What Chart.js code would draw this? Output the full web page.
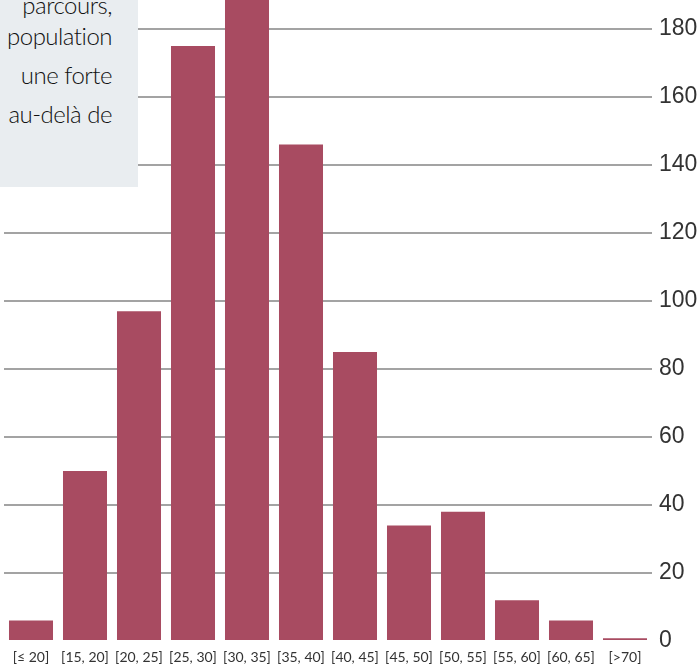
<!DOCTYPE html>
<html>
<head>
<meta charset="utf-8">
<style>
    body { margin: 0; background: #fff; }
    #wrap { position: relative; width: 700px; height: 666px; overflow: hidden; }
    #note {
        position: absolute; left: 0; top: 0; width: 138px; height: 187px;
        background: #e9edf0; overflow: hidden;
        font-family: Lato, "Open Sans", sans-serif; font-weight: 300; font-size: 24px; line-height: 22px;
        letter-spacing: -0.5px; color: #111;
    }
    #note div { position: absolute; right: 26px; white-space: nowrap; }
</style>
</head>
<body>
<div id="wrap">
    <canvas id="ageChart" width="700" height="666"></canvas>
    <div id="note">
        <div style="top:-6px">parcours,</div>
        <div style="top:25px">population</div>
        <div style="top:64px">une forte</div>
        <div style="top:103px">au-delà de</div>
    </div>
</div>

<script src="https://cdn.jsdelivr.net/npm/chart.js"></script>

<script>
    // age bands and counts
    const ageBands = ['[≤ 20]', '[15, 20]', '[20, 25]', '[25, 30]', '[30, 35]', '[35, 40]',
                      '[40, 45]', '[45, 50]', '[50, 55]', '[55, 60]', '[60, 65]', '[>70]'];
    const counts = [6, 50, 97, 175, 197, 146, 85, 34, 38, 12, 6, 0.8];
    const yTicks = [0, 20, 40, 60, 80, 100, 120, 140, 160, 180];

    const barColor = '#a84b61';
    const gridColor = '#a3a3a3';
    const textColor = '#333333';

    new Chart(document.getElementById('ageChart'), {
        type: 'bar',
        data: {
            labels: ageBands,
            datasets: [{
                data: counts,
                backgroundColor: barColor,
                borderWidth: 0,
                barPercentage: 0.815,
                categoryPercentage: 1
            }]
        },
        options: {
            responsive: false,
            animation: false,
            devicePixelRatio: 1,
            layout: { padding: { left: 4, right: 0, top: 0, bottom: 0 } },
            plugins: {
                legend: { display: false },
                tooltip: { enabled: false }
            },
            scales: {
                x: {
                    grid: { display: false },
                    border: { display: false },
                    ticks: {
                        color: '#333333',
                        font: { family: 'Lato', size: 14 },
                        padding: 0,
                        maxRotation: 0,
                        autoSkip: false
                    },
                    afterFit: (scale) => {
                        scale.height = 25;
                        scale.paddingLeft = 0;
                        scale.paddingRight = 0;
                    }
                },
                y: {
                    position: 'right',
                    min: 0,
                    max: 188.5,
                    afterBuildTicks: (scale) => { scale.ticks = yTicks.map(v => ({ value: v })); },
                    afterFit: (scale) => {
                        scale.width = 48;
                        scale.paddingTop = 0;
                        scale.paddingBottom = 0;
                    },
                    grid: {
                        drawTicks: false,
                        lineWidth: 2,
                        color: (ctx) => ctx.tick && ctx.tick.value === 0 ? 'rgba(0,0,0,0)' : gridColor
                    },
                    border: { display: false },
                    ticks: {
                        color: textColor,
                        font: { family: '"Liberation Sans", Arial, sans-serif', size: 23 },
                        padding: 7
                    }
                }
            }
        }
    });
</script>
</body>
</html>
